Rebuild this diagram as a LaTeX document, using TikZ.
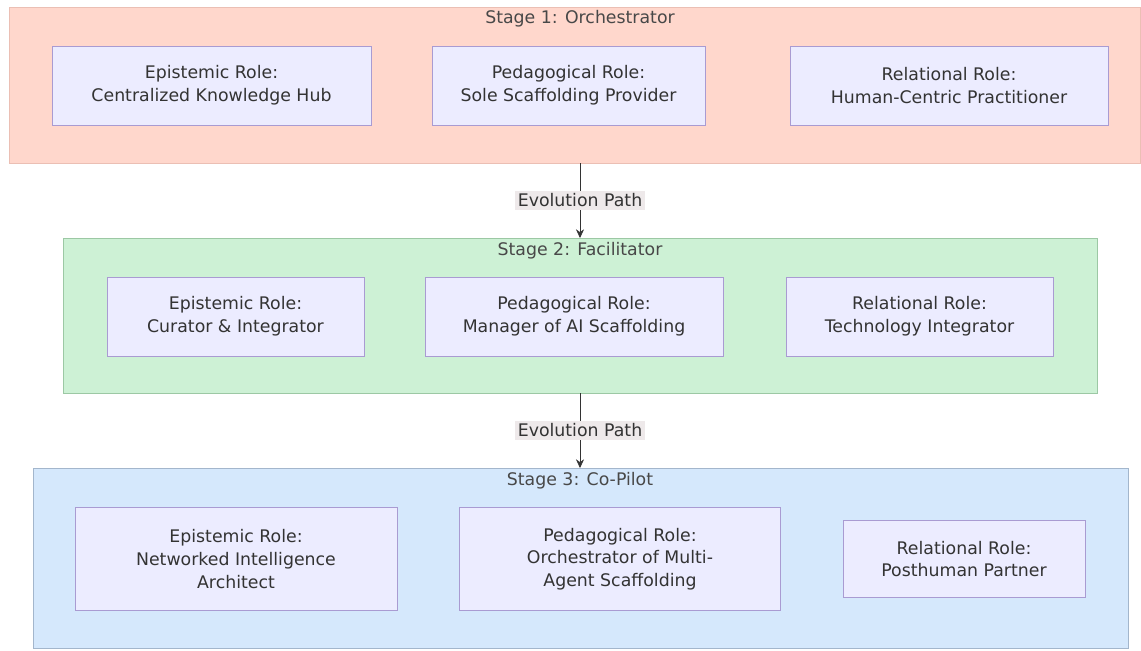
\documentclass[tikz,border=0pt]{standalone}
\usepackage{fontspec}
\setmainfont{DejaVu Sans}
\usepackage{tikz}
\usepackage{xcolor}
\usetikzlibrary{arrows.meta,positioning}

\definecolor{orchfill}{HTML}{FFD7CC}
\definecolor{orchline}{HTML}{EBBFB4}
\definecolor{facfill}{HTML}{CDF1D5}
\definecolor{facline}{HTML}{9CC8A4}
\definecolor{pilotfill}{HTML}{D5E8FC}
\definecolor{pilotline}{HTML}{A3B6CC}
\definecolor{rolefill}{HTML}{ECECFF}
\definecolor{roleline}{HTML}{A99BD2}
\definecolor{inktext}{HTML}{333333}
\definecolor{titletext}{HTML}{484848}
\definecolor{pathfill}{HTML}{EEE9EA}

\tikzset{
  stagebox/.style={draw,line width=0.6pt,inner sep=0pt,outer sep=0pt},
  stagetitle/.style={anchor=center,text=titletext,inner sep=1pt},
  rolebox/.style={draw=roleline,fill=rolefill,line width=0.6pt,align=center,
    text=inktext,inner sep=2pt,outer sep=0pt},
  pathlabel/.style={fill=pathfill,text=inktext,inner sep=2pt},
}

\begin{document}
\begin{tikzpicture}[x=0.75pt,y=-0.75pt,>={Stealth[length=6.5pt,width=6pt]},
  font=\fontsize{13}{17}\selectfont]
\useasboundingbox[fill=white](0,0) rectangle (1141,650);
% stage frames
\node[stagebox,draw=orchline,fill=orchfill,minimum width=848.25pt,minimum height=117pt] (s1) at (574.5,85) {};
\node[stagebox,draw=facline,fill=facfill,minimum width=775.5pt,minimum height=116.25pt] (s2) at (580,315.5) {};
\node[stagebox,draw=pilotline,fill=pilotfill,minimum width=821.25pt,minimum height=135pt] (s3) at (580.5,558) {};
\node[stagetitle] (t1) at (580,19) {Stage 1: Orchestrator};
\node[stagetitle] (t2) at (580,251) {Stage 2: Facilitator};
\node[stagetitle] (t3) at (580,481) {Stage 3: Co-Pilot};

% stage 1
\node[rolebox,minimum width=239.25pt,minimum height=59.25pt] (e1) at (211.5,85.5) {Epistemic Role:\\Centralized Knowledge Hub};
\node[rolebox,minimum width=204.75pt,minimum height=59.25pt] (p1) at (568.5,85.5) {Pedagogical Role:\\Sole Scaffolding Provider};
\node[rolebox,minimum width=238.5pt,minimum height=59.25pt] (r1) at (949,85.5) {Relational Role:\\Human-Centric Practitioner};

% stage 2
\node[rolebox,minimum width=192.75pt,minimum height=59.25pt] (e2) at (235.5,316.5) {Epistemic Role:\\Curator \& Integrator};
\node[rolebox,minimum width=223.5pt,minimum height=59.25pt] (p2) at (574,316.5) {Pedagogical Role:\\Manager of AI Scaffolding};
\node[rolebox,minimum width=200.25pt,minimum height=59.25pt] (r2) at (919.5,316.5) {Relational Role:\\Technology Integrator};

% stage 3
\node[rolebox,minimum width=241.5pt,minimum height=77.25pt] (e3) at (236,559) {Epistemic Role:\\Networked Intelligence\\Architect};
\node[rolebox,minimum width=240.75pt,minimum height=77.25pt] (p3) at (620,559) {Pedagogical Role:\\Orchestrator of Multi-\\Agent Scaffolding};
\node[rolebox,minimum width=181.5pt,minimum height=57.75pt] (r3) at (964,559) {Relational Role:\\Posthuman Partner};

% evolution
\draw[->,inktext] (t1 |- s1.south) -- node[pathlabel] (l1) {Evolution Path} (t2 |- s2.north);
\draw[->,inktext] (t2 |- s2.south) -- node[pathlabel] (l2) {Evolution Path} (t3 |- s3.north);
\end{tikzpicture}
\end{document}
